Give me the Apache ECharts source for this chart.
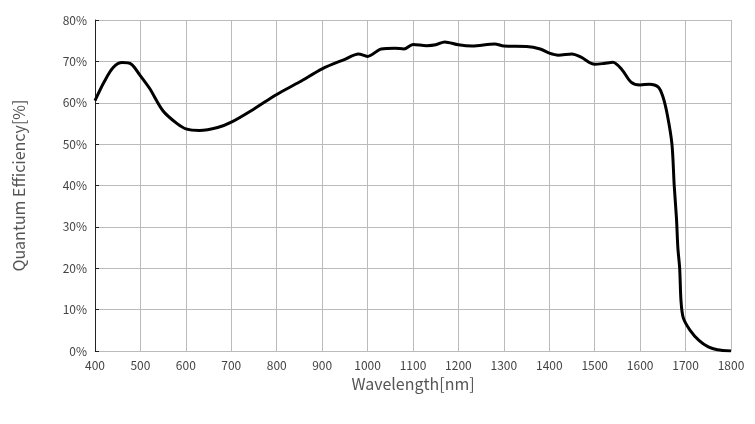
<!DOCTYPE html>
<html><head><meta charset="utf-8">
<script src="https://cdn.jsdelivr.net/npm/echarts@6/dist/echarts.min.js"></script>
<style>html,body{margin:0;background:#fff}#c{width:755px;height:424px}</style>
</head><body><div id="c"></div>
<script>
const wavelength = [400,420,440,460,480,500,520,550,580,600,630,670,700,750,800,850,900,950,980,1000,1030,1060,1080,1100,1130,1150,1170,1200,1230,1280,1300,1350,1380,1400,1420,1450,1470,1500,1520,1540,1560,1580,1600,1620,1640,1650,1660,1670,1675,1680,1683,1687,1690,1695,1710,1730,1750,1770,1800];
const qe = [60.5,65,68.5,69.7,69.3,66.5,63.5,58,55,53.7,53.3,54,55.3,58.5,62,65,68.2,70.5,71.8,71.2,73,73.2,73,74.1,73.8,74,74.7,74,73.7,74.2,73.7,73.6,73,72,71.5,71.8,71,69.3,69.5,69.8,68,65,64.3,64.5,63.8,61.5,57,50,40,32,25,20,12,8,5,2.5,1,0.3,0];

const chart = echarts.init(document.getElementById('c'));
const font = '"Noto Sans CJK SC", "Noto Sans", sans-serif';
chart.setOption({
  animation: false,
  grid: { left: 95, right: 24, top: 20, bottom: 73 },
  xAxis: {
    type: 'value', min: 400, max: 1800, interval: 100,
    name: 'Wavelength[nm]', nameLocation: 'middle', nameGap: 24,
    nameTextStyle: { fontFamily: font, fontSize: 16, color: '#555' },
    axisLine: { show: true, lineStyle: { color: '#bbb' } },
    axisTick: { show: false },
    axisLabel: { fontFamily: font, fontSize: 12, color: '#444', formatter: v => String(v) },
    splitLine: { show: true, lineStyle: { color: '#bbb' } }
  },
  yAxis: {
    type: 'value', min: 0, max: 80, interval: 10,
    name: 'Quantum Efficiency[%]', nameLocation: 'middle', nameGap: 68,
    nameTextStyle: { fontFamily: font, fontSize: 16, color: '#555' },
    axisLine: { show: true, lineStyle: { color: '#222' } },
    axisTick: { show: true, inside: true, length: 4, lineStyle: { color: '#222' } },
    axisLabel: { fontFamily: font, fontSize: 12, color: '#444', formatter: '{value}%' },
    splitLine: { show: true, lineStyle: { color: '#bbb' } }
  },
  series: [{
    type: 'line', smooth: 0.3, showSymbol: false,
    data: wavelength.map((w, i) => [w, qe[i]]),
    lineStyle: { color: '#000', width: 3 }
  }]
});
</script></body></html>
